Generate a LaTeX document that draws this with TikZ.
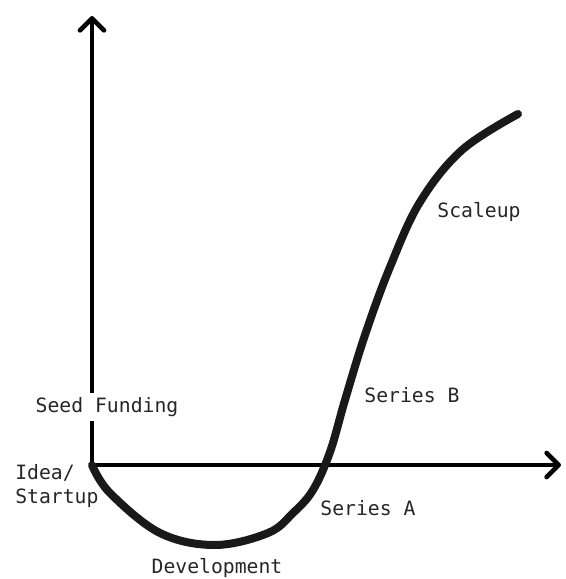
\documentclass[tikz,border=0pt]{standalone}
\usepackage{fontspec}
\setmonofont{DejaVu Sans Mono}
\usetikzlibrary{arrows.meta}
\begin{document}
\begin{tikzpicture}[x=0.75pt,y=-0.75pt,
  lbl/.style={font=\ttfamily\fontsize{14.8}{17.5}\selectfont, text=black!85, inner sep=0pt},
  axis/.style={line width=3pt, -{Straight Barb[length=9pt,width=18pt,line width=3.5pt,line cap=round,round]}}]
  \useasboundingbox (0,0) rectangle (565,579);

  % axes
  \coordinate (origin) at (92,465);
  \coordinate (ytop) at (92,16);
  \coordinate (xend) at (561,465);
  \draw[axis] (origin) -- (ytop);
  \draw[axis] (origin) -- (xend);

  % growth curve
  \draw[line width=6pt, line cap=round, line join=round, black!90]
    plot[smooth, tension=0.6] coordinates {
      (92,465) (110,493) (160,533) (215,545) (268,533) (293,513)
      (313,490) (330,452) (345,400) (365,335) (390,267) (420,202)
      (462,150) (518,114)};

  % stage labels
  \node[lbl, fill=white, inner sep=3pt] (seed) at (107,407) {Seed Funding};
  \node[lbl, align=left, anchor=west] (idea) at (15,486) {Idea/\\Startup};
  \node[lbl] (dev) at (217,568) {Development};
  \node[lbl] (sera) at (368,508) {Series A};
  \node[lbl] (serb) at (412,395) {Series B};
  \node[lbl] (scale) at (479,212) {Scaleup};
\end{tikzpicture}
\end{document}
